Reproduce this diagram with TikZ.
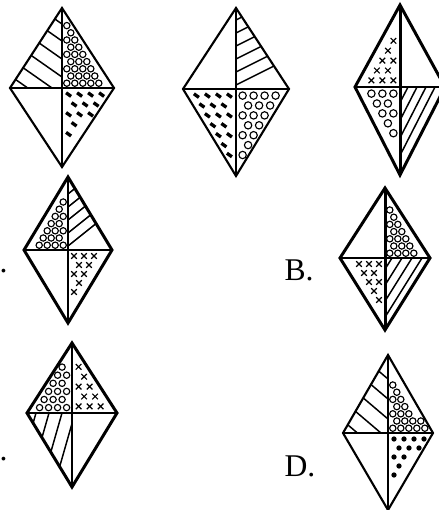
\documentclass[tikz,border=0pt]{standalone}
\usepackage{fontspec}
\setmainfont{Liberation Serif}
\begin{document}
\begin{tikzpicture}[x=0.02cm,y=-0.02cm,
  hl/.style={line width=0.85pt},
  mk/.style={line width=0.65pt},
  lbl/.style={font=\fontsize{18}{20}\selectfont, inner sep=0pt}]
\fill[white] (0,0) rectangle (439,510);
\useasboundingbox (0,0) rectangle (439,510);

% marks
\newcommand\mo{\draw[mk] (\px,\py) circle (1.8pt);}
\newcommand\mO{\draw[mk] (\px,\py) circle (2.1pt);}
\newcommand\mx{\draw[mk] (\px,\py) +(-2.8,-2.8) -- +(2.8,2.8) +(-2.8,2.8) -- +(2.8,-2.8);}
\newcommand\mb{\draw[line width=1.9pt] (\px,\py) +(-2.5,-1.8) -- +(2.5,1.8);}
\newcommand\md{\fill (\px,\py) circle (1.5pt);}

% #1 cx #2 cy #3 sx #4 sy #5 W #6 H #7 spacing #8 mark
\newcommand\qmarks[8]{%
  \foreach \i in {0,...,11}{%
    \foreach \j in {0,...,11}{%
      \pgfmathsetmacro\uu{#7*(\i+0.5*mod(\j,2))+0.6*#7}%
      \pgfmathsetmacro\vv{#7*0.9*\j+0.6*#7}%
      \pgfmathsetmacro\dd{(1-\uu/#5-\vv/#6)*#5*#6/sqrt(#5*#5+#6*#6)}%
      \pgfmathtruncatemacro\ok{\dd>4.5}%
      \ifnum\ok=1
        \pgfmathsetmacro\px{#1+(#3)*\uu}%
        \pgfmathsetmacro\py{#2-(#4)*\vv}%
        #8%
      \fi
    }}}

% #1 name #2 cx #3 cy #4 W #5 Ht #6 Hb #7 lw
\newcommand\rhomb[7]{%
  \coordinate (#1c) at (#2,#3);
  \coordinate (#1t) at (#2,#3-#5);
  \coordinate (#1b) at (#2,#3+#6);
  \coordinate (#1l) at (#2-#4,#3);
  \coordinate (#1r) at (#2+#4,#3);
  \draw[line width=#7, line join=miter] (#1t) -- (#1r) -- (#1b) -- (#1l) -- cycle;
  \draw[line width=#7] (#1t) -- (#1b) (#1l) -- (#1r);
}

% ---------- Diamond 1 ----------
\begin{scope}
\clip (62,88) -- (10,88) -- (62,8) -- cycle;
\foreach \d in {-24,-7,11,29,47,64} \draw[hl] (62-100,88-\d-70) -- (62+100,88-\d+70);
\end{scope}
\qmarks{62}{88}{1}{1}{52}{80}{8}{\mo}
\qmarks{62}{88}{1}{-1}{52}{79}{11}{\mb}
\rhomb{da}{62}{88}{52}{80}{79}{1.2pt}

% ---------- Diamond 2 ----------
\begin{scope}
\clip (236,89) -- (289,89) -- (236,8) -- cycle;
\foreach \d in {4,17,30,43,56,69} \draw[hl] (236+100,89-\d-50) -- (236-100,89-\d+50);
\end{scope}
\qmarks{236}{89}{-1}{-1}{53}{87}{11}{\mb}
\qmarks{236}{89}{1}{-1}{53}{87}{11}{\mO}
\rhomb{db}{236}{89}{53}{81}{87}{1.2pt}

% ---------- Diamond 3 ----------
\begin{scope}
\clip (400,87) -- (445,87) -- (400,175) -- cycle;
\foreach \u in {8,17,26,35} \draw[hl] (400+\u-45,87+88) -- (400+\u+45,87-88);
\end{scope}
\qmarks{400}{87}{-1}{1}{45}{82}{11}{\mx}
\qmarks{400}{87}{-1}{-1}{45}{88}{11}{\mO}
\rhomb{dc}{400}{87}{45}{82}{88}{1.7pt}

% ---------- Diamond A ----------
\begin{scope}
\clip (68,250) -- (112,250) -- (68,177) -- cycle;
\foreach \d in {4,17,30,43,56} \draw[hl] (68+100,250-\d-80) -- (68-100,250-\d+80);
\end{scope}
\qmarks{68}{250}{-1}{1}{44}{73}{8}{\mo}
\qmarks{68}{250}{1}{-1}{44}{73}{10}{\mx}
\rhomb{dA}{68}{250}{44}{73}{73}{1.7pt}
\node[lbl, anchor=base east] (labA) at (8,272) {A.};

% ---------- Diamond B ----------
\begin{scope}
\clip (385,258) -- (430,258) -- (385,330) -- cycle;
\foreach \u in {7,17,27,37} \draw[hl] (385+\u-45,258+72) -- (385+\u+45,258-72);
\end{scope}
\qmarks{385}{258}{1}{1}{45}{70}{8}{\mo}
\qmarks{385}{258}{-1}{-1}{45}{72}{10}{\mx}
\rhomb{dB}{385}{258}{45}{70}{72}{1.7pt}
\node[lbl] (labB) at (299,270) {B.};

% ---------- Diamond C ----------
\begin{scope}
\clip (72,413) -- (27,413) -- (72,487) -- cycle;
\foreach \u in {-36,-23,-10,3} \draw[hl] (72+\u+20,413-70) -- (72+\u-20,413+70);
\end{scope}
\qmarks{72}{413}{-1}{1}{45}{70}{9}{\mo}
\qmarks{72}{413}{1}{1}{45}{70}{11}{\mx}
\rhomb{dC}{72}{413}{45}{70}{74}{1.7pt}
\node[lbl, anchor=base east] (labC) at (8,460) {C.};

% ---------- Diamond D ----------
\begin{scope}
\clip (388,433) -- (343,433) -- (388,355) -- cycle;
\foreach \d in {-26,-6,14,34,54} \draw[hl] (388-100,433-\d-85) -- (388+100,433-\d+85);
\end{scope}
\qmarks{388}{433}{1}{1}{45}{78}{8}{\mo}
\qmarks{388}{433}{1}{-1}{45}{77}{10}{\md}
\rhomb{dD}{388}{433}{45}{78}{77}{1.2pt}
\node[lbl] (labD) at (300,466) {D.};
\end{tikzpicture}
\end{document}
